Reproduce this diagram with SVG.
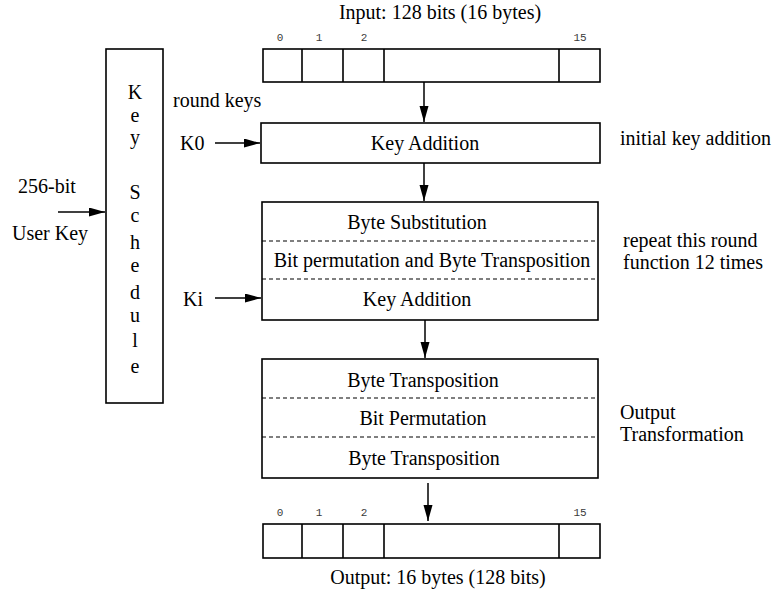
<svg xmlns="http://www.w3.org/2000/svg" width="776" height="599" viewBox="0 0 776 599">
  <style>
    .box { fill: #ffffff; stroke: #000000; stroke-width: 1.6; }
    .cell { fill: none; stroke: #000000; stroke-width: 1.6; }
    .sep { stroke: #000000; stroke-width: 1.2; stroke-dasharray: 4 3; }
    .lbl { font-family: "Liberation Serif", "Times New Roman", serif; font-size: 20px; fill: #000000; }
    .mid { text-anchor: middle; }
    .idx { font-family: "Liberation Mono", "Courier New", monospace; font-size: 11px; fill: #3a3a3a; text-anchor: middle; }
    .wire { stroke: #000000; stroke-width: 1.5; fill: none; marker-end: url(#head); }
  </style>
  <defs>
    <marker id="head" markerUnits="userSpaceOnUse" markerWidth="17" markerHeight="10" refX="16" refY="4.5" orient="auto">
      <path d="M0,0 L16,4.5 L0,9 z" fill="#000000"/>
    </marker>
  </defs>

  <rect width="776" height="599" fill="#ffffff"/>

  <!-- 128-bit input block -->
  <g id="input">
    <text class="lbl mid" x="440" y="19">Input: 128 bits (16 bytes)</text>
    <text class="idx" x="280" y="41">0</text>
    <text class="idx" x="319" y="41">1</text>
    <text class="idx" x="364" y="41">2</text>
    <text class="idx" x="580" y="41">15</text>
    <rect class="box" x="263" y="49" width="337" height="33"/>
    <path class="cell" d="M302,49 V82 M343,49 V82 M384,49 V82 M559,49 V82"/>
  </g>

  <!-- key schedule: one letter per line -->
  <g id="key-schedule">
    <rect class="box" x="106" y="49" width="57" height="354"/>
    <text class="lbl mid" x="135" y="99">K<tspan x="135" dy="22.5">e</tspan><tspan x="135" dy="22.5">y</tspan><tspan x="135" dy="55">S</tspan><tspan x="135" dy="22.5">c</tspan><tspan x="135" dy="27.5">h</tspan><tspan x="135" dy="23">e</tspan><tspan x="135" dy="27">d</tspan><tspan x="135" dy="22.5">u</tspan><tspan x="135" dy="25.5">l</tspan><tspan x="135" dy="26">e</tspan></text>
  </g>

  <g id="user-key">
    <text class="lbl" x="18" y="193">256-bit</text>
    <text class="lbl" x="12" y="240">User Key</text>
  </g>

  <g id="round-keys">
    <text class="lbl" x="173" y="107">round keys</text>
    <text class="lbl" x="180" y="150">K0</text>
    <text class="lbl" x="183" y="306">Ki</text>
  </g>

  <!-- initial key addition -->
  <g id="initial-key-addition">
    <rect class="box" x="261" y="123" width="339" height="40"/>
    <text class="lbl mid" x="425" y="150">Key Addition</text>
    <text class="lbl" x="620" y="145">initial key addition</text>
  </g>

  <!-- round function -->
  <g id="round-function">
    <rect class="box" x="262" y="202" width="336" height="118"/>
    <line class="sep" x1="262" y1="241" x2="598" y2="241"/>
    <line class="sep" x1="262" y1="279" x2="598" y2="279"/>
    <text class="lbl mid" x="417" y="229">Byte Substitution</text>
    <text class="lbl mid" x="432" y="267">Bit permutation and Byte Transposition</text>
    <text class="lbl mid" x="417" y="306">Key Addition</text>
    <text class="lbl" x="623" y="247">repeat this round</text>
    <text class="lbl" x="623" y="269">function 12 times</text>
  </g>

  <!-- output transformation -->
  <g id="output-transformation">
    <rect class="box" x="262" y="359" width="336" height="119"/>
    <line class="sep" x1="262" y1="398" x2="598" y2="398"/>
    <line class="sep" x1="262" y1="437" x2="598" y2="437"/>
    <text class="lbl mid" x="423" y="387">Byte Transposition</text>
    <text class="lbl mid" x="423" y="425">Bit Permutation</text>
    <text class="lbl mid" x="424" y="465">Byte Transposition</text>
    <text class="lbl" x="620" y="419">Output</text>
    <text class="lbl" x="620" y="441">Transformation</text>
  </g>

  <!-- 128-bit output block -->
  <g id="output">
    <text class="idx" x="280" y="516">0</text>
    <text class="idx" x="319" y="516">1</text>
    <text class="idx" x="364" y="516">2</text>
    <text class="idx" x="580" y="516">15</text>
    <rect class="box" x="263" y="524" width="337" height="34"/>
    <path class="cell" d="M302,524 V558 M343,524 V558 M384,524 V558 M559,524 V558"/>
    <text class="lbl mid" x="438" y="584">Output: 16 bytes (128 bits)</text>
  </g>

  <!-- connectors -->
  <g id="connectors">
    <line class="wire" x1="424" y1="82" x2="424" y2="122"/>
    <line class="wire" x1="424" y1="163" x2="424" y2="201"/>
    <line class="wire" x1="425" y1="320" x2="425" y2="358"/>
    <line class="wire" x1="428" y1="483" x2="428" y2="521"/>
    <line class="wire" x1="58" y1="212" x2="105" y2="212"/>
    <line class="wire" x1="215" y1="143" x2="260" y2="143"/>
    <line class="wire" x1="215" y1="298" x2="261" y2="298"/>
  </g>
</svg>
